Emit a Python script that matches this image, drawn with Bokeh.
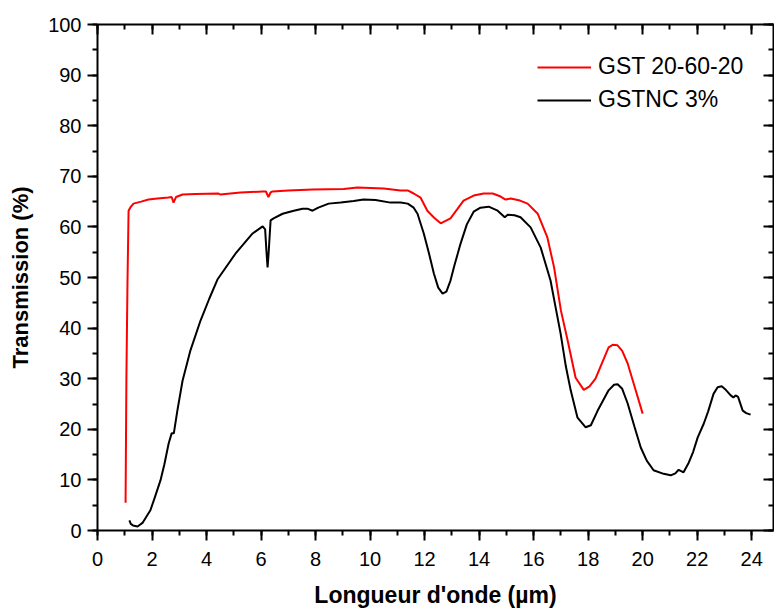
from bokeh.plotting import figure
from bokeh.models import (Range1d, LinearAxis, SingleIntervalTicker, Legend, LegendItem,
                          CustomJSTickFormatter)
from bokeh.embed import file_html
from bokeh.resources import INLINE

# GST 20-60-20 (red)
gst_x = [1.03, 1.06, 1.10, 1.14, 1.20, 1.32, 1.60, 1.87, 2.20, 2.60, 2.72, 2.79, 2.88, 3.12,
         3.60, 4.44, 4.50, 5.25, 6.06, 6.18, 6.27, 6.35, 6.42, 7.00, 7.90, 9.03, 9.54, 10.50,
         11.12, 11.38, 11.60, 11.85, 12.10, 12.35, 12.59, 12.95, 13.20, 13.43, 13.80, 14.17,
         14.50, 14.79, 14.97, 15.16, 15.50, 15.78, 16.15, 16.50, 16.75, 17.00, 17.25, 17.54,
         17.84, 18.05, 18.27, 18.50, 18.75, 18.90, 19.08, 19.25, 19.45, 19.70, 20.00]
gst_y = [5.5, 30.0, 49.0, 63.2, 63.8, 64.6, 65.0, 65.4, 65.6, 65.8, 65.9, 64.8, 65.9, 66.4,
         66.5, 66.6, 66.4, 66.8, 67.0, 67.0, 65.9, 66.8, 67.0, 67.2, 67.4, 67.5, 67.8, 67.6,
         67.2, 67.2, 66.6, 65.8, 63.2, 61.8, 60.7, 61.7, 63.5, 65.2, 66.2, 66.6,
         66.6, 66.0, 65.4, 65.6, 65.2, 64.6, 62.6, 58.0, 52.0, 43.5, 37.5, 30.2,
         27.8, 28.5, 30.0, 33.0, 36.2, 36.7, 36.6, 35.5, 33.0, 28.5, 23.1]

# GSTNC 3% (black)
nc_x = [1.17, 1.22, 1.30, 1.47, 1.65, 1.94, 2.10, 2.31, 2.45, 2.61, 2.72, 2.80, 2.93, 3.12,
        3.41, 3.78, 4.10, 4.40, 5.06, 5.69, 6.06, 6.15, 6.20, 6.24, 6.28, 6.35, 6.46, 6.79,
        7.20, 7.52, 7.70, 7.89, 8.10, 8.48, 8.92, 9.40, 9.76, 10.20, 10.75, 11.12, 11.38,
        11.60, 11.74, 11.97, 12.15, 12.34, 12.50, 12.66, 12.80, 12.95, 13.10, 13.32, 13.55,
        13.80, 14.05, 14.35, 14.68, 14.94, 15.05, 15.30, 15.52, 15.89, 16.26, 16.62, 16.81,
        16.99, 17.18, 17.36, 17.61, 17.91, 18.10, 18.35, 18.75, 18.95, 19.08, 19.25, 19.45,
        19.70, 19.93, 20.15, 20.40, 20.77, 21.03, 21.20, 21.32, 21.50, 21.69, 21.85, 22.02,
        22.24, 22.40, 22.60, 22.75, 22.90, 23.05, 23.23, 23.33, 23.41, 23.50, 23.67, 23.80,
        23.96]
nc_y = [2.0, 1.3, 1.0, 0.8, 1.5, 4.0, 6.5, 9.9, 13.0, 17.2, 19.2, 19.2, 23.7, 29.6,
        35.6, 41.5, 45.8, 49.6, 54.7, 58.7, 60.1, 59.5, 55.0, 52.0, 55.0, 61.3, 61.7, 62.6,
        63.2, 63.6, 63.6, 63.2, 63.8, 64.6, 64.8, 65.1, 65.4, 65.3, 64.8, 64.8, 64.6,
        63.8, 62.6, 58.7, 55.0, 50.8, 48.0, 46.8, 47.2, 49.4, 52.5, 56.7, 60.5,
        63.0, 63.8, 64.0, 63.2, 61.9, 62.4, 62.3, 61.9, 59.9, 55.9, 49.4, 44.0,
        38.9, 32.5, 27.7, 22.3, 20.4, 20.8, 23.7, 27.7, 28.8, 28.9, 28.0, 25.1,
        20.5, 16.4, 13.8, 11.9, 11.2, 10.9, 11.3, 12.0, 11.5, 13.4, 15.5, 18.4,
        21.1, 23.5, 27.0, 28.3, 28.5, 27.8, 26.7, 26.3, 26.7, 26.4, 23.7, 23.2,
        22.9]

labels = ["GST 20-60-20", "GSTNC 3%"]
colors = ["#ff0000", "#000000"]

FONT = "Liberation Sans"

p = figure(width=774, height=610, output_backend="svg", toolbar_location=None,
           x_range=Range1d(0, 24.8), y_range=Range1d(0, 100),
           min_border_left=97, min_border_top=24, min_border_bottom=80, min_border_right=1,
           x_axis_location=None, y_axis_location=None)
p.outline_line_color = None
p.grid.visible = False
p.background_fill_color = "white"
p.border_fill_color = "white"

xt = SingleIntervalTicker(interval=2, num_minor_ticks=2)
yt = SingleIntervalTicker(interval=10, num_minor_ticks=2)

def style(ax, inward=False):
    ax.axis_line_width = 2
    ax.major_tick_line_width = 2
    ax.minor_tick_line_width = 2
    ax.axis_line_color = "black"
    ax.major_tick_line_color = "black"
    ax.minor_tick_line_color = "black"
    if inward:
        ax.major_tick_in = 10
        ax.major_tick_out = 0
        ax.minor_tick_in = 5
        ax.minor_tick_out = 0
        ax.formatter = CustomJSTickFormatter(code="return ''")
        ax.major_label_standoff = 0
    else:
        ax.major_tick_in = 0
        ax.major_tick_out = 10
        ax.minor_tick_in = 0
        ax.minor_tick_out = 5
        ax.major_label_text_font = FONT
        ax.major_label_text_font_size = "20px"
        ax.major_label_text_color = "black"
        ax.axis_label_text_font = FONT
        ax.axis_label_text_font_size = "23px"
        ax.axis_label_text_font_style = "bold"
        ax.axis_label_text_color = "black"

bottom = LinearAxis(ticker=xt, axis_label="Longueur d'onde (µm)")
style(bottom)
bottom.major_label_standoff = 11
bottom.axis_label_standoff = 13
left = LinearAxis(ticker=yt, axis_label="Transmission (%)")
style(left)
left.major_label_standoff = 6
left.axis_label_standoff = 12
left.axis_label_text_font_size = "22px"
top = LinearAxis(ticker=xt)
style(top, inward=True)
right = LinearAxis(ticker=yt)
style(right, inward=True)

p.add_layout(bottom, "below")
p.add_layout(left, "left")
p.add_layout(top, "above")
p.add_layout(right, "right")

r1 = p.line(gst_x, gst_y, line_color=colors[0], line_width=2)
r2 = p.line(nc_x, nc_y, line_color=colors[1], line_width=2)

legend = Legend(items=[LegendItem(label=labels[0], renderers=[r1]),
                       LegendItem(label=labels[1], renderers=[r2])],
                location=(440, 417))
legend.border_line_color = None
legend.background_fill_alpha = 0
legend.padding = 0
legend.margin = 0
legend.spacing = 6
legend.glyph_width = 54
legend.glyph_height = 26
legend.label_height = 26
legend.label_standoff = 7
legend.label_text_font = FONT
legend.label_text_font_size = "23px"
legend.label_text_color = "black"
p.add_layout(legend, "center")

open("out.html", "w").write(file_html(p, INLINE))
